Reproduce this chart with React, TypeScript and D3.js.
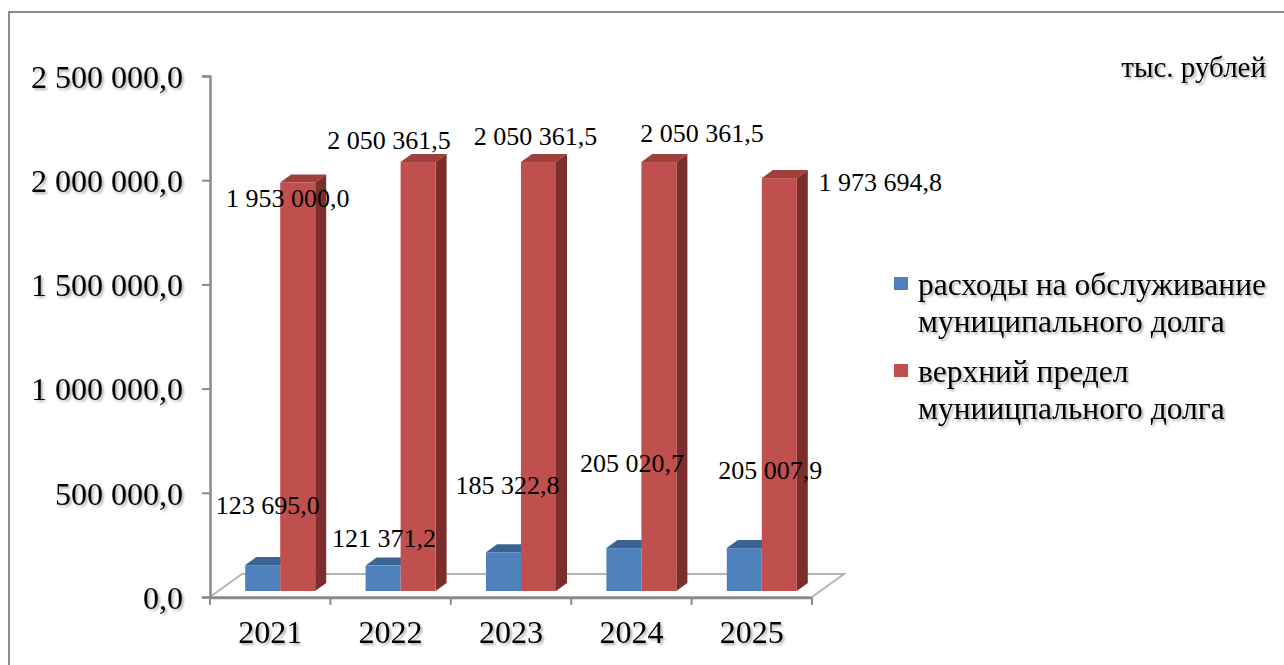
import React, { useEffect, useRef } from 'react';
import * as d3 from 'd3';

const years = ['2021', '2022', '2023', '2024', '2025'];
const serviceCosts = [123695.0, 121371.2, 185322.8, 205020.7, 205007.9];
const debtLimit = [1953000.0, 2050361.5, 2050361.5, 2050361.5, 1973694.8];
const yTicks = [0, 500000, 1000000, 1500000, 2000000, 2500000];
const seriesNames = [
  ['расходы на обслуживание', 'муниципального долга'],
  ['верхний предел', 'муниицпального долга'],
];
const unitLabel = 'тыс. рублей';

// label nudges (px) relative to bar centre / bar top, Excel placed them oddly
const blueLabelNudge = [[5, -51], [1, -19], [4, -58], [8, -76], [26, -69]];
const redLabelNudge = [[-10, 25], [-29, -13], [-3, -17], [43, -20], [101, 13]];

const fmt = (v: number) => {
  const [i, f] = v.toFixed(1).split('.');
  return i.replace(/\B(?=(\d{3})+(?!\d))/g, ' ') + ',' + f;
};

const W = 1284;
const H = 665;

export default function App() {
  const svgRef = useRef<SVGSVGElement>(null);

  useEffect(() => {
    if (!svgRef.current) return;
    const svg = d3.select(svgRef.current);
    svg.selectAll('*').remove();

    const font = '"Liberation Serif", Tinos, "Times New Roman", serif';
    const colors = {
      blue: '#4f81bd', blueTop: '#3b6494',
      red: '#c0504d', redTop: '#a0403d', redSide: '#7b2e2c',
      axis: '#8a8a8a', floor: '#b5b5b5', frame: '#8c8c8c'
    };

    const defs = svg.append('defs');
    defs.append('filter').attr('id', 'tshadow')
      .attr('x', '-10%').attr('y', '-30%').attr('width', '130%').attr('height', '180%')
      .append('feDropShadow')
      .attr('dx', 2).attr('dy', 2).attr('stdDeviation', 1.2)
      .attr('flood-color', '#000').attr('flood-opacity', 0.3);

    // frame
    svg.append('rect')
      .attr('x', 9).attr('y', 12).attr('width', W).attr('height', H)
      .attr('fill', '#fff').attr('stroke', colors.frame).attr('stroke-width', 2);

    const x = d3.scaleBand().domain(years).range([210, 812]).padding(0);
    const yAxisScale = d3.scaleLinear().domain([0, 2500000]).range([597, 76]);
    const yBar = d3.scaleLinear().domain([0, 2500000]).range([591, 68]);

    const depth = { dx: 32, dy: -23 };
    const barShift = 10;
    const barW = 35;
    const side = { dx: 11, dy: -8 };

    // floor
    const [x0, x1] = x.range();
    const y0 = yAxisScale(0);
    svg.append('polygon')
      .attr('points', [
        [x0, y0], [x1, y0], [x1 + depth.dx, y0 + depth.dy], [x0 + depth.dx, y0 + depth.dy]
      ].map(p => p.join(',')).join(' '))
      .attr('fill', '#fff').attr('stroke', colors.floor).attr('stroke-width', 2);

    // y axis
    const yAx = svg.append('g').attr('transform', `translate(${x0},0)`)
      .call(d3.axisLeft(yAxisScale).tickValues(yTicks).tickSize(8).tickPadding(19).tickFormat(d => fmt(+d)));
    yAx.select('.domain').attr('stroke', colors.axis).attr('stroke-width', 2.5);
    yAx.selectAll('.tick line').attr('stroke', colors.axis).attr('stroke-width', 2);
    yAx.selectAll('.tick text')
      .attr('font-family', font).attr('font-size', 32).attr('fill', '#000')
      .attr('dy', '0.35em').attr('filter', 'url(#tshadow)');

    // x axis
    const xAxisY = y0 + 1;
    svg.append('line')
      .attr('x1', x0).attr('x2', x1).attr('y1', xAxisY).attr('y2', xAxisY)
      .attr('stroke', colors.axis).attr('stroke-width', 2.5);
    const bounds = years.map(c => x(c)!).concat([x1]);
    svg.selectAll('.xtick').data(bounds).enter().append('line')
      .attr('x1', d => d).attr('x2', d => d)
      .attr('y1', xAxisY).attr('y2', xAxisY + 7)
      .attr('stroke', colors.axis).attr('stroke-width', 2);
    svg.selectAll('.xlabel').data(years).enter().append('text')
      .attr('x', d => x(d)! + x.bandwidth() / 2)
      .attr('y', 643)
      .attr('text-anchor', 'middle')
      .attr('font-family', font).attr('font-size', 32).attr('fill', '#000')
      .attr('filter', 'url(#tshadow)')
      .text(d => d);

    const base = yBar(0);
    const blueX = (c: string) => x(c)! + barShift + (x.bandwidth() - 2 * barW) / 2;
    const redX = (c: string) => blueX(c) + barW;

    const poly = (pts: number[][]) => pts.map(p => p.join(',')).join(' ');

    // blue bars
    years.forEach((c, i) => {
      const bx = blueX(c);
      const top = yBar(serviceCosts[i]);
      svg.append('polygon')
        .attr('points', poly([[bx, top], [bx + side.dx, top + side.dy], [bx + barW + side.dx, top + side.dy], [bx + barW, top]]))
        .attr('fill', colors.blueTop);
      svg.append('rect')
        .attr('x', bx).attr('y', top).attr('width', barW).attr('height', base - top)
        .attr('fill', colors.blue);
    });

    // red bars
    years.forEach((c, i) => {
      const rx = redX(c);
      const top = yBar(debtLimit[i]);
      svg.append('polygon')
        .attr('points', poly([[rx, top], [rx + side.dx, top + side.dy], [rx + barW + side.dx, top + side.dy], [rx + barW, top]]))
        .attr('fill', colors.redTop);
      svg.append('polygon')
        .attr('points', poly([[rx + barW, top], [rx + barW + side.dx, top + side.dy], [rx + barW + side.dx, base + side.dy], [rx + barW, base]]))
        .attr('fill', colors.redSide);
      svg.append('rect')
        .attr('x', rx).attr('y', top).attr('width', barW).attr('height', base - top)
        .attr('fill', colors.red);
    });

    // data labels
    years.forEach((c, i) => {
      svg.append('text')
        .attr('x', blueX(c) + barW / 2 + blueLabelNudge[i][0])
        .attr('y', yBar(serviceCosts[i]) + blueLabelNudge[i][1])
        .attr('text-anchor', 'middle')
        .attr('font-family', font).attr('font-size', 26).attr('fill', '#000')
        .text(fmt(serviceCosts[i]));
      svg.append('text')
        .attr('x', redX(c) + barW / 2 + redLabelNudge[i][0])
        .attr('y', yBar(debtLimit[i]) + redLabelNudge[i][1])
        .attr('text-anchor', 'middle')
        .attr('font-family', font).attr('font-size', 26).attr('fill', '#000')
        .text(fmt(debtLimit[i]));
    });

    // legend
    const legendColors = [colors.blue, colors.red];
    const legendTop = [295, 382];
    seriesNames.forEach((lines, i) => {
      svg.append('rect')
        .attr('x', 894).attr('y', legendTop[i] - 18).attr('width', 14).attr('height', 13)
        .attr('fill', legendColors[i]);
      lines.forEach((t, j) => {
        svg.append('text')
          .attr('x', 918).attr('y', legendTop[i] + j * 37)
          .attr('font-family', font).attr('font-size', 31.5).attr('fill', '#000')
          .attr('filter', 'url(#tshadow)')
          .text(t);
      });
    });

    svg.append('text')
      .attr('x', 1266).attr('y', 77)
      .attr('text-anchor', 'end')
      .attr('font-family', font).attr('font-size', 29).attr('fill', '#000')
      .attr('filter', 'url(#tshadow)')
      .text(unitLabel);
  }, []);

  return (
    <svg
      ref={svgRef}
      width={W}
      height={H}
      style={{ position: 'absolute', left: 0, top: 0, background: '#fff' }}
    />
  );
}
